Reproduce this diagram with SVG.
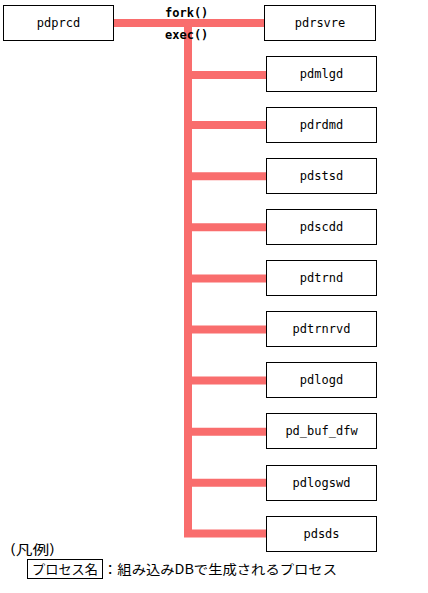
<svg xmlns="http://www.w3.org/2000/svg" width="428" height="593" viewBox="0 0 428 593">
<style>
.box{fill:#fff;stroke:#000;stroke-width:1}
.lbl{font-family:"DejaVu Sans Mono","Liberation Mono",monospace;font-size:12px;text-anchor:middle;fill:#000}
.fn{font-family:"DejaVu Sans Mono","Liberation Mono",monospace;font-size:12px;font-weight:bold;fill:#000}
.jp{font-family:"Noto Sans CJK JP",sans-serif;font-size:13px;fill:#000}
.ln{stroke:#F96D6D;stroke-width:8;fill:none}
</style>
<rect width="428" height="593" fill="#fff"/>
<g id="connectors">
<line class="ln" x1="114" y1="23" x2="265" y2="23"/>
<line class="ln" x1="188" y1="19" x2="188" y2="537"/>
<line class="ln" x1="188" y1="75" x2="267" y2="75"/>
<line class="ln" x1="188" y1="125.1" x2="267" y2="125.1"/>
<line class="ln" x1="188" y1="176.2" x2="267" y2="176.2"/>
<line class="ln" x1="188" y1="227.3" x2="267" y2="227.3"/>
<line class="ln" x1="188" y1="278.4" x2="267" y2="278.4"/>
<line class="ln" x1="188" y1="329.5" x2="267" y2="329.5"/>
<line class="ln" x1="188" y1="380.6" x2="267" y2="380.6"/>
<line class="ln" x1="188" y1="431.7" x2="267" y2="431.7"/>
<line class="ln" x1="188" y1="482.8" x2="267" y2="482.8"/>
<line class="ln" x1="184" y1="533.5" x2="267" y2="533.5"/>
<text class="fn" x="165" y="17">fork()</text>
<text class="fn" x="165" y="39">exec()</text>
</g>
<g id="pdprcd"><rect class="box" x="3.5" y="5.5" width="110" height="35"/><text class="lbl" x="58.5" y="27">pdprcd</text></g>
<g id="pdrsvre"><rect class="box" x="264.5" y="5.5" width="111" height="35"/><text class="lbl" x="320" y="27">pdrsvre</text></g>
<g id="pdmlgd"><rect class="box" x="266.5" y="56.5" width="110" height="35"/><text class="lbl" x="321.5" y="78">pdmlgd</text></g>
<g id="pdrdmd"><rect class="box" x="266.5" y="107.5" width="110" height="35"/><text class="lbl" x="321.5" y="129">pdrdmd</text></g>
<g id="pdstsd"><rect class="box" x="266.5" y="158.5" width="110" height="35"/><text class="lbl" x="321.5" y="180">pdstsd</text></g>
<g id="pdscdd"><rect class="box" x="266.5" y="209.5" width="110" height="35"/><text class="lbl" x="321.5" y="231">pdscdd</text></g>
<g id="pdtrnd"><rect class="box" x="266.5" y="260.5" width="110" height="35"/><text class="lbl" x="321.5" y="282">pdtrnd</text></g>
<g id="pdtrnrvd"><rect class="box" x="266.5" y="311.5" width="110" height="35"/><text class="lbl" x="321.5" y="333">pdtrnrvd</text></g>
<g id="pdlogd"><rect class="box" x="266.5" y="362.5" width="110" height="35"/><text class="lbl" x="321.5" y="384">pdlogd</text></g>
<g id="pd_buf_dfw"><rect class="box" x="266.5" y="413.5" width="110" height="35"/><text class="lbl" x="321.5" y="435">pd_buf_dfw</text></g>
<g id="pdlogswd"><rect class="box" x="266.5" y="465.5" width="110" height="35"/><text class="lbl" x="321.5" y="487">pdlogswd</text></g>
<g id="pdsds"><rect class="box" x="266.5" y="516.5" width="110" height="35"/><text class="lbl" x="321.5" y="538">pdsds</text></g>
<g id="legend">
<text class="jp" x="10" y="554" textLength="45" lengthAdjust="spacingAndGlyphs">(凡例)</text>
<rect class="box" x="27.5" y="559.5" width="75" height="19"/>
<text class="jp" x="32" y="574" textLength="66" lengthAdjust="spacingAndGlyphs">プロセス名</text>
<text class="jp" x="103" y="574" textLength="234" lengthAdjust="spacingAndGlyphs">：組み込みDBで生成されるプロセス</text>
</g>
</svg>
